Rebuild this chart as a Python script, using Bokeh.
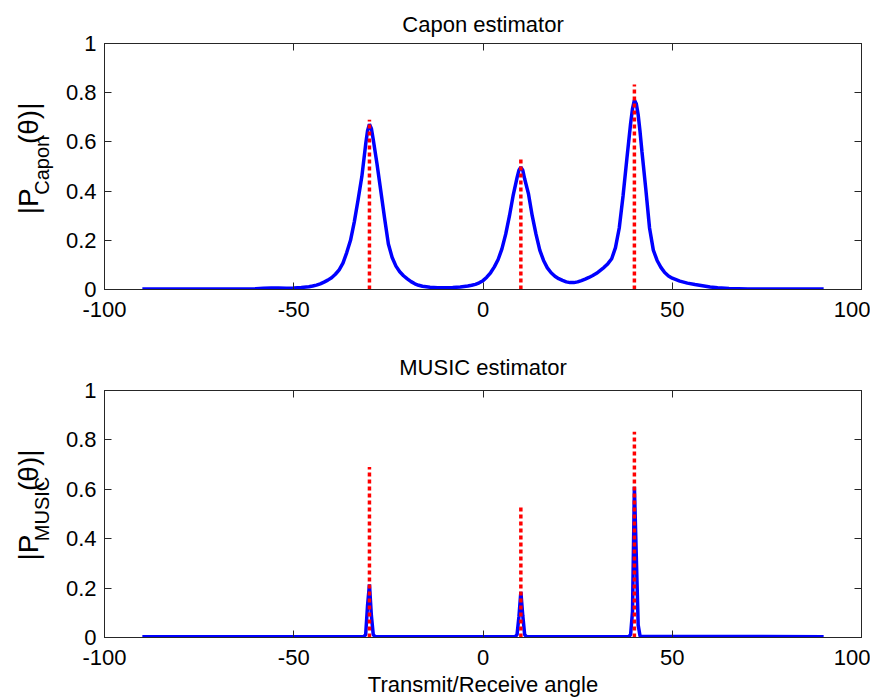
import math
from bokeh.plotting import figure
from bokeh.models import Range1d, LinearAxis, FixedTicker, Label
from bokeh.layouts import column, row
from bokeh.embed import file_html
from bokeh.resources import INLINE

# ---- data ----
capon_theta = [-90, -80, -70, -60, -58, -56, -54, -52, -50, -48, -46, -45, -44, -43, -42, -41, -40,
               -39, -38, -37, -36, -35, -34, -33, -32, -31, -30.5, -30, -29.5, -29,
               -28, -27, -26, -25, -24, -23, -22, -21, -20, -19, -18, -17, -16, -14, -12, -10, -8,
               -6, -4, -3, -2, -1, 0, 1, 2, 3, 4, 5, 6, 7, 8, 9, 9.5, 10, 10.5, 11,
               12, 13, 14, 15, 16, 17, 18, 19, 20, 21, 22, 23, 24, 25, 26, 27, 28, 29, 30,
               31, 32, 33, 34, 35, 36, 37, 38, 39, 39.5, 40, 40.5, 41, 41.5,
               42, 43, 44, 45, 46, 47, 48, 49, 50, 52, 54, 56, 58, 60, 62, 65, 70, 80, 90]
capon_vals = [0.002, 0.002, 0.002, 0.003, 0.005, 0.006, 0.006, 0.005, 0.006, 0.008, 0.011, 0.014, 0.018, 0.023, 0.030, 0.038, 0.048,
              0.062, 0.080, 0.107, 0.150, 0.200, 0.275, 0.365, 0.460, 0.590, 0.645, 0.672, 0.655, 0.610,
              0.510, 0.400, 0.290, 0.185, 0.130, 0.095, 0.072, 0.056, 0.043, 0.032, 0.023, 0.017, 0.013, 0.009, 0.007, 0.007, 0.008,
              0.010, 0.014, 0.017, 0.021, 0.027, 0.036, 0.050, 0.068, 0.092, 0.122, 0.165, 0.225, 0.300, 0.385, 0.455, 0.485, 0.497, 0.485, 0.450,
              0.390, 0.300, 0.225, 0.160, 0.118, 0.088, 0.068, 0.054, 0.044, 0.037, 0.031, 0.028, 0.028, 0.031, 0.036, 0.042, 0.049, 0.057, 0.066,
              0.078, 0.090, 0.105, 0.125, 0.170, 0.250, 0.380, 0.530, 0.675, 0.735, 0.770, 0.755, 0.710, 0.640,
              0.560, 0.410, 0.250, 0.160, 0.118, 0.090, 0.069, 0.055, 0.046, 0.034, 0.026, 0.020, 0.015, 0.010, 0.007, 0.004, 0.002, 0.002, 0.002]

music_theta = [-90, -31.5, -31, -30.5, -30, -29.5, -29, -28.5,
               8.5, 9, 9.5, 10, 10.5, 11, 11.5,
               38.5, 39, 39.5, 40, 40.5, 41, 41.5, 90]
music_vals = [0.003, 0.003, 0.012, 0.130, 0.215, 0.090, 0.012, 0.003,
              0.003, 0.012, 0.085, 0.185, 0.090, 0.012, 0.003,
              0.003, 0.012, 0.105, 0.610, 0.330, 0.050, 0.005, 0.003]

true_doa = [-30, 10, 40]
true_amp = [0.69, 0.537, 0.833]

x_ticks = [-100, -50, 0, 50, 100]
x_tick_labels = ["-100", "-50", "0", "50", "100"]
y_ticks = [0, 0.2, 0.4, 0.6, 0.8, 1]
y_tick_labels = ["0", "0.2", "0.4", "0.6", "0.8", "1"]

FONT = "Liberation Sans"
AX = "#262626"
LAB_W = 60


def style_axis(ax, labels=True):
    ax.major_tick_in = 7
    ax.major_tick_out = 0
    ax.minor_tick_in = 0
    ax.minor_tick_out = 0
    ax.axis_line_color = AX
    ax.major_tick_line_color = AX
    ax.major_label_text_font = FONT
    ax.major_label_text_color = "#000000"
    if labels:
        ax.major_label_text_font_size = "22px"
    else:
        ax.major_label_text_font_size = "0px"
        ax.major_label_standoff = 0


def make_fig(title, height, btop, bbottom, theta, vals, title_standoff):
    p = figure(width=870 - LAB_W, height=height, x_range=Range1d(-100, 100), y_range=Range1d(0, 1),
               output_backend="svg", toolbar_location=None,
               min_border_left=104 - LAB_W, min_border_right=9,
               min_border_top=btop, min_border_bottom=bbottom,
               title=title)
    p.title.align = "center"
    p.title.text_font = FONT
    p.title.text_font_size = "22px"
    p.title.text_font_style = "normal"
    p.title.text_color = "#000000"
    p.title.standoff = title_standoff
    p.grid.visible = False
    p.outline_line_color = AX
    p.outline_line_alpha = 1

    bx = p.below[0]
    ly = p.left[0]
    bx.ticker = FixedTicker(ticks=x_ticks)
    bx.major_label_overrides = dict(zip(x_ticks, x_tick_labels))
    ly.ticker = FixedTicker(ticks=y_ticks)
    ly.major_label_overrides = dict(zip(y_ticks, y_tick_labels))
    style_axis(bx)
    style_axis(ly)
    bx.major_label_standoff = 12
    ly.major_label_standoff = 8

    top = LinearAxis(ticker=FixedTicker(ticks=x_ticks))
    style_axis(top, labels=False)
    p.add_layout(top, "above")
    right = LinearAxis(ticker=FixedTicker(ticks=y_ticks))
    style_axis(right, labels=False)
    p.add_layout(right, "right")

    p.line(theta, vals, line_color="#0000ff", line_width=3.5)
    p.segment(x0=true_doa, y0=[0] * len(true_doa), x1=true_doa, y1=true_amp,
              line_color="#ff0000", line_width=3.5, line_dash="4 3")
    return p


def make_ylabel(height, pieces):
    q = figure(width=LAB_W, height=height, x_range=Range1d(0, LAB_W), y_range=Range1d(0, height),
               output_backend="svg", toolbar_location=None,
               x_axis_location=None, y_axis_location=None,
               min_border=0, min_border_left=0, min_border_right=0,
               min_border_top=0, min_border_bottom=0)
    q.grid.visible = False
    q.outline_line_color = None
    for text, size, y, x in pieces:
        q.add_layout(Label(x=x, y=y, text=text, angle=math.pi / 2,
                           text_font=FONT, text_font_size=f"{size}px",
                           text_align="left", text_baseline="alphabetic",
                           text_color="#000000"))
    return q


H1, H2 = 340, 359
p1 = make_fig("Capon estimator", H1, 43, 51, capon_theta, capon_vals, 14)
p2 = make_fig("MUSIC estimator", H2, 50, 62, music_theta, music_vals, 21)
ax2 = p2.below[0]
ax2.axis_label = "Transmit/Receive angle"
ax2.axis_label_text_font = FONT
ax2.axis_label_text_font_size = "22px"
ax2.axis_label_text_font_style = "normal"
ax2.axis_label_text_color = "#000000"
ax2.axis_label_standoff = 4

l1 = make_ylabel(H1, [("|P", 28, H1 - 236, 28), ("Capon", 20, H1 - 209, 41), ("(\u03b8)|", 28, H1 - 139, 28)])
l2 = make_ylabel(H2, [("|P", 28, 699 - 587, 28), ("MUSIC", 20, 699 - 559, 41), ("(\u03b8)|", 28, 699 - 486, 28)])

layout = column(row(l1, p1), row(l2, p2))
open("out.html", "w").write(file_html(layout, INLINE))
